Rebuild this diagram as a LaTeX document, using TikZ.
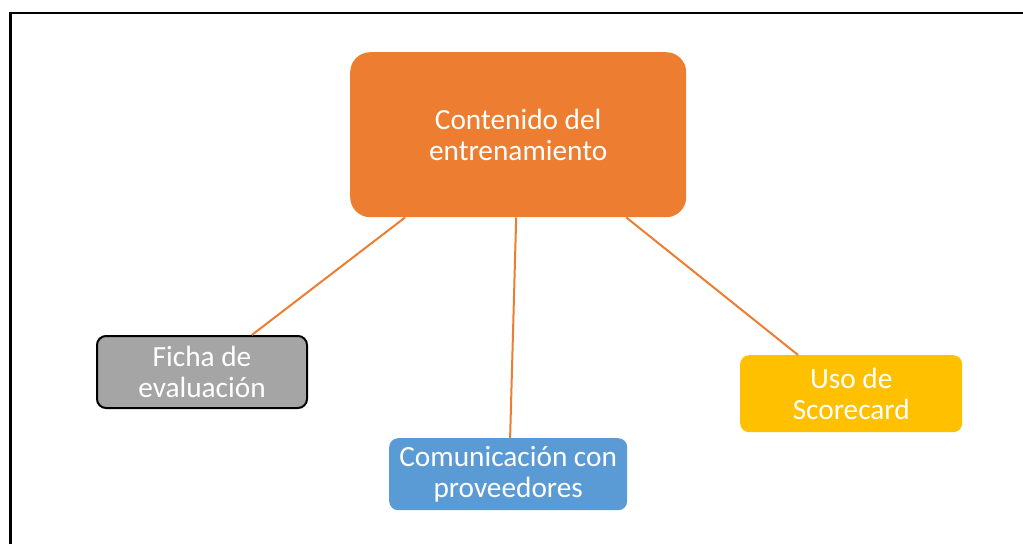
\documentclass[tikz,border=0pt]{standalone}
\usepackage{fontspec}
\setmainfont{Carlito}
\usetikzlibrary{calc}
\definecolor{corange}{HTML}{ED7D31}
\definecolor{cgray}{HTML}{A5A5A5}
\definecolor{cblue}{HTML}{5B9BD5}
\definecolor{cyellow}{HTML}{FFC000}
\tikzset{
  box/.style={rounded corners=#1, inner sep=0pt, align=center, text=white,
    font=\fontsize{29.3}{31.5}\selectfont, anchor=north west},
  link/.style={draw=corange, line width=2pt}
}
\begin{document}
\begin{tikzpicture}[x=1pt,y=-1pt]
\useasboundingbox (0,0) rectangle (1023,544);
\draw[line width=2.2pt] (10.5,544) -- (10.5,13) -- (1023,13);
\node[box=20pt, fill=corange, minimum width=336pt, minimum height=165pt] (c) at (350,52) {Contenido del\\entrenamiento};
\node[box=9pt, fill=cgray, draw=black, line width=2pt, minimum width=210pt, minimum height=72pt] (f) at (96,335) {Ficha de\\evaluación};
\node[box=9pt, fill=cblue, minimum width=238pt, minimum height=72pt] (m) at (389,438) {Comunicación con\\proveedores};
\node[box=9pt, fill=cyellow, minimum width=222pt, minimum height=77pt] (u) at (740,355) {Uso de\\Scorecard};
\draw[link] ($(c.south west)!0.164!(c.south east)$) -- ($(f.north west)!0.735!(f.north east)$);
\draw[link] ($(c.south west)!0.494!(c.south east)$) -- ($(m.north west)!0.508!(m.north east)$);
\draw[link] ($(c.south west)!0.821!(c.south east)$) -- ($(u.north west)!0.261!(u.north east)$);
\end{tikzpicture}
\end{document}
